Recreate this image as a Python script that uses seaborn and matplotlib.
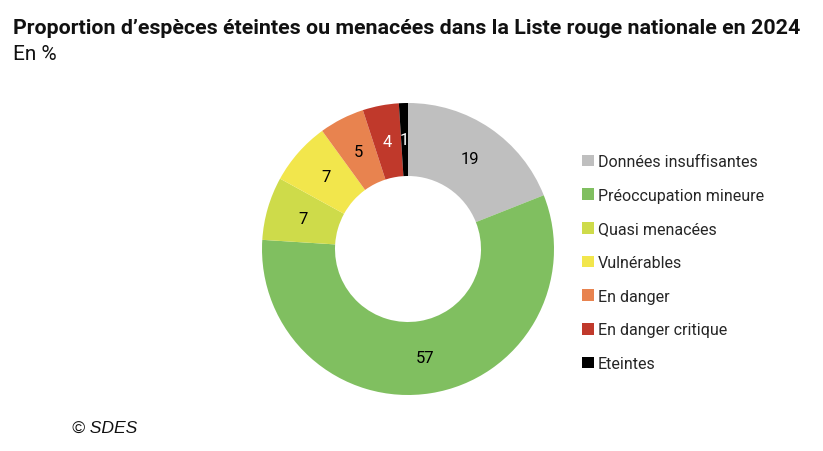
import matplotlib
matplotlib.use("Agg")
import matplotlib.pyplot as plt
from matplotlib.patches import Patch
import numpy as np
import seaborn as sns

# data
categories = ["Données insuffisantes", "Préoccupation mineure", "Quasi menacées",
              "Vulnérables", "En danger", "En danger critique", "Eteintes"]
values = [19, 57, 7, 7, 5, 4, 1]
colors = ["#BFBFBF", "#80BF60", "#CEDB4A", "#F2E64C", "#E8834F", "#C0392B", "#000000"]
label_colors = ["black", "black", "black", "black", "black", "white", "white"]

sns.set_theme(style="white")
plt.rcParams["font.family"] = ["Roboto", "DejaVu Sans"]
palette = sns.color_palette(colors)

fig = plt.figure(figsize=(8.23, 4.52), dpi=100)
W, H = 823, 452
cx, cy, r = 408, 250, 146
ax = fig.add_axes([(cx - r) / W, (H - cy - r) / H, 2 * r / W, 2 * r / H])

wedges, _ = ax.pie(values, colors=palette, startangle=90, counterclock=False,
                   radius=1.0, wedgeprops=dict(width=0.5, linewidth=0))
ax.set_xlim(-1, 1)
ax.set_ylim(-1, 1)
ax.set_aspect("equal")
ax.axis("off")

# value labels in the middle of the ring
for w, v, c in zip(wedges, values, label_colors):
    ang = np.deg2rad((w.theta1 + w.theta2) / 2)
    ax.text(0.75 * np.cos(ang), 0.75 * np.sin(ang), str(v), ha="center", va="center",
            fontsize=12, color=c)

handles = [Patch(facecolor=col, edgecolor="none") for col in palette]
fig.legend(handles, categories, loc="center left", bbox_to_anchor=(576 / W, 1 - 263.5 / H),
           frameon=False, fontsize=11.5, handlelength=0.75, handleheight=0.75,
           handletextpad=0.2, labelspacing=1.17, borderaxespad=0)

fig.text(13 / W, 1 - 28 / H, "Proportion d’espèces éteintes ou menacées dans la Liste rouge nationale en 2024",
         fontsize=15.4, fontweight="bold", ha="left", va="center", color="#111111")
fig.text(13 / W, 1 - 54 / H, "En %", fontsize=15, ha="left", va="center", color="#111111")
fig.text(72 / W, 1 - 428 / H, "© SDES", fontsize=12.6, style="italic", ha="left", va="center",
         family=["Liberation Sans", "DejaVu Sans"], color="#111111")

fig.savefig("out.png", dpi=100)
